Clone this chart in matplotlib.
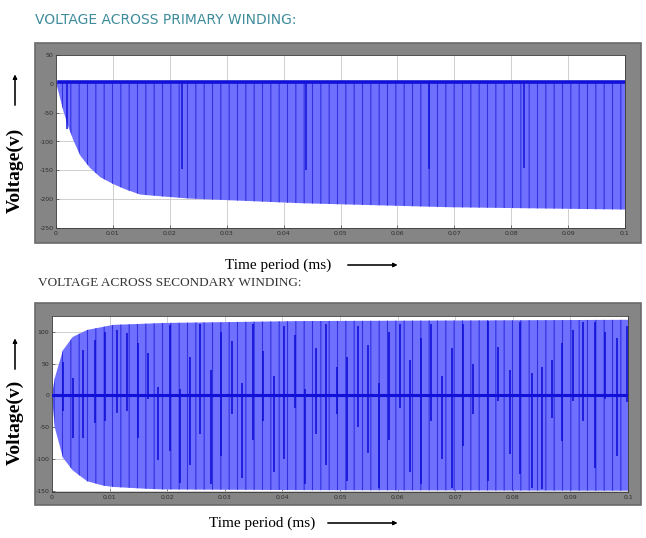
import matplotlib
matplotlib.use("Agg")
import matplotlib.pyplot as plt
from matplotlib.patches import Rectangle

# ── Primary winding: negative envelope of the switched waveform ──
prim_t = [0, 0.0002, 0.0013, 0.002, 0.0031, 0.0043, 0.006, 0.0078, 0.0101,
          0.0122, 0.0148, 0.0184, 0.0236, 0.043, 0.0693, 0.1]
prim_env = [0, -5, -47, -70, -99, -125, -146, -162, -174,
            -183, -192, -195, -199, -207, -214, -218]
prim_level = 4
# deeper dark spikes (time, lowest value)
prim_spike_t = [0.0020, 0.0222, 0.0440, 0.0655, 0.0822]
prim_spike_v = [-78, -148, -150, -147, -146]

# ── Secondary winding: upper / lower envelopes ──
sec_t = [0, 0.0005, 0.0019, 0.0036, 0.0061, 0.0089, 0.0106, 0.0165, 0.0193, 0.043, 0.1]
sec_top = [0, 28, 71, 92, 103, 108, 111, 113, 114, 117, 119]
sec_bot = [0, -51, -98, -118, -135, -142, -144, -147, -148, -149, -150]
# dark spikes (time, top, bottom)
sec_spike_t = [0.0019, 0.0036, 0.0054, 0.0075, 0.0092, 0.0113, 0.0130, 0.0149, 0.0167,
               0.0184, 0.0205, 0.0222, 0.0240, 0.0257, 0.0276, 0.0293, 0.0313, 0.0330,
               0.0349, 0.0366, 0.0385, 0.0403, 0.0422, 0.0439, 0.0458, 0.0476, 0.0495,
               0.0512, 0.0531, 0.0549, 0.0568, 0.0585, 0.0604, 0.0622, 0.0641, 0.0658,
               0.0677, 0.0694, 0.0714, 0.0731, 0.0757, 0.0774, 0.0795, 0.0813, 0.0833,
               0.0851, 0.0868, 0.0885, 0.0905, 0.0922, 0.0943, 0.0960, 0.0981, 0.0998]
sec_spike_hi = [52, 28, 71, 87, 100, 103, 98, 82, 66,
                13, 111, 10, 60, 112, 40, 100, 85, 20,
                113, 70, 30, 110, 95, 10, 75, 113, 45,
                60, 110, 80, 20, 100, 113, 55, 90, 112,
                30, 75, 113, 50, 117, 76, 40, 115, 35,
                44, 55, 82, 103, 115, 115, 100, 90, 110]
sec_spike_lo = [-24, -67, -67, -44, -40, -28, -24, -67, -5,
                -102, -87, -138, -110, -60, -140, -95, -30, -130,
                -70, -40, -120, -100, -20, -140, -60, -110, -30,
                -135, -50, -90, -145, -70, -20, -120, -140, -40,
                -100, -145, -80, -30, -134, -8, -92, -123, -145,
                -148, -35, -71, -8, -40, -114, -5, -95, -10]

x_ticks = [0, 0.01, 0.02, 0.03, 0.04, 0.05, 0.06, 0.07, 0.08, 0.09, 0.1]
x_labels = ["0", "0.01", "0.02", "0.03", "0.04", "0.05", "0.06", "0.07", "0.08", "0.09", "0.1"]
prim_yticks = [50, 0, -50, -100, -150, -200, -250]
sec_yticks = [100, 50, 0, -50, -100, -150]

FILL = "#7070ff"
DARK = "#1010d8"
FRAME = "#858585"

plt.rcParams["hatch.color"] = "#3030e0"
plt.rcParams["hatch.linewidth"] = 0.8

W, H = 646, 538
fig = plt.figure(figsize=(W / 100, H / 100), dpi=100)
fig.patch.set_facecolor("white")


def fbox(x0, y0, x1, y1):
    # pixel box (top-left origin) -> figure fraction [left, bottom, width, height]
    return [x0 / W, (H - y1) / H, (x1 - x0) / W, (y1 - y0) / H]


def frame(x0, y0, x1, y1):
    l, b, w, h = fbox(x0, y0, x1, y1)
    fig.patches.append(Rectangle((l, b), w, h, transform=fig.transFigure,
                                 facecolor=FRAME, edgecolor="#6a6a6a", lw=1.2, zorder=-5))


def style_axes(ax, yticks):
    ax.set_facecolor("white")
    ax.set_xlim(0, 0.1)
    ax.set_xticks(x_ticks)
    ax.set_xticklabels(x_labels)
    ax.set_yticks(yticks)
    ax.set_yticklabels([str(v) for v in yticks])
    ax.tick_params(direction="in", length=2, width=0.5, labelsize=4.5,
                   labelcolor="#2e2e2e", pad=2, color="#444444")
    ax.grid(True, color="#c8c8c8", lw=0.6)
    ax.set_axisbelow(True)
    for s in ax.spines.values():
        s.set_color("#3a3a3a")
        s.set_linewidth(0.6)


# ── Primary panel ──
frame(35, 43, 641, 243)
ax1 = fig.add_axes(fbox(56, 55, 625, 228))
style_axes(ax1, prim_yticks)
ax1.set_ylim(-250, 50)
ax1.fill_between(prim_t, prim_env, prim_level, facecolor=FILL, edgecolor="#3030e0",
                 hatch="||", linewidth=0, zorder=2)
ax1.vlines(prim_spike_t, prim_spike_v, prim_level, color=DARK, lw=1.1, zorder=3)
ax1.plot([0.0005, 0.1], [prim_level, prim_level], color=DARK, lw=2.6, zorder=4)

# ── Secondary panel ──
frame(35, 303, 641, 505)
ax2 = fig.add_axes(fbox(52, 316, 628, 492))
style_axes(ax2, sec_yticks)
ax2.set_ylim(-152, 125)
ax2.fill_between(sec_t, sec_bot, sec_top, facecolor=FILL, edgecolor="#3030e0",
                 hatch="||", linewidth=0, zorder=2)
ax2.vlines(sec_spike_t, sec_spike_lo, sec_spike_hi, color=DARK, lw=1.2, zorder=3)
ax2.axhline(0, color=DARK, lw=2.2, zorder=4)

# ── Titles and axis captions ──
fig.text(35 / W, 1 - 20 / H, "VOLTAGE ACROSS PRIMARY WINDING:", color="#3f8c9c",
         fontsize=10, family=["DejaVu Sans"], va="center")
fig.text(38 / W, 1 - 283 / H, "VOLTAGE ACROSS SECONDARY WINDING:", color="#333333",
         fontsize=9.5, family=["Liberation Serif", "DejaVu Serif"], va="center")

serif = ["Liberation Serif", "DejaVu Serif"]
for yc, ya0, ya1 in [(170, 108, 72), (422, 372, 336)]:
    fig.text(15 / W, 1 - yc / H, "Voltage(v)", rotation=90, fontsize=14,
             fontweight="bold", family=serif, ha="center", va="center")
    fig.add_artist(plt.annotate("", xy=(15 / W, 1 - ya1 / H), xytext=(15 / W, 1 - ya0 / H),
                                xycoords="figure fraction", textcoords="figure fraction",
                                arrowprops=dict(arrowstyle="-|>", color="black", lw=0.8,
                                                mutation_scale=6)))

for xc, yc, xa0, xa1 in [(278, 265, 345, 400), (262, 523, 325, 400)]:
    fig.text(xc / W, 1 - yc / H, "Time period (ms)", fontsize=11, family=serif,
             ha="center", va="center")
    fig.add_artist(plt.annotate("", xy=(xa1 / W, 1 - yc / H), xytext=(xa0 / W, 1 - yc / H),
                                xycoords="figure fraction", textcoords="figure fraction",
                                arrowprops=dict(arrowstyle="-|>", color="black", lw=0.8,
                                                mutation_scale=6)))

fig.savefig("out.png", dpi=100)
